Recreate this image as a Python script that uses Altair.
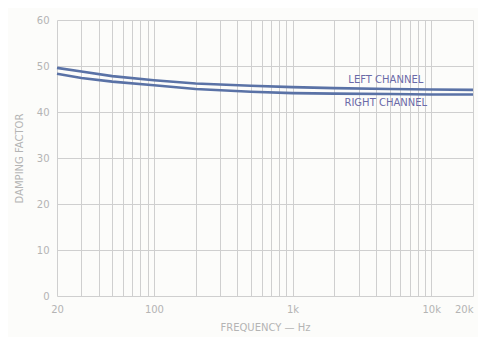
import altair as alt
import pandas as pd

freq = [20, 30, 50, 100, 200, 500, 1000, 2000, 5000, 10000, 20000]
left = [49.6, 48.8, 47.8, 46.9, 46.2, 45.7, 45.4, 45.2, 45.0, 44.9, 44.8]
right = [48.3, 47.4, 46.6, 45.8, 45.0, 44.4, 44.1, 44.0, 43.9, 43.8, 43.8]

grid_x = [20, 30, 40, 50, 60, 70, 80, 90, 100, 200, 300, 400, 500, 600, 700, 800, 900,
          1000, 2000, 3000, 4000, 5000, 6000, 7000, 8000, 9000, 10000, 20000]
label_map = {20: "20", 100: "100", 1000: "1k", 10000: "10k", 20000: "20k"}
y_ticks = [0, 10, 20, 30, 40, 50, 60]

label_text = ["LEFT CHANNEL", "RIGHT CHANNEL"]
label_x = [4700, 4700]
label_y = [47.0, 42.0]

rows = []
for f, l, r in zip(freq, left, right):
    rows.append({"f": f, "v": l, "ch": "LEFT CHANNEL"})
    rows.append({"f": f, "v": r, "ch": "RIGHT CHANNEL"})
df = pd.DataFrame(rows)
lab = pd.DataFrame({"t": label_text, "f": label_x, "v": label_y})

expr = " : ".join([f"datum.value == {k} ? '{v}'" for k, v in label_map.items()]) + " : ''"

xscale = alt.Scale(type="log", domain=[20, 20000], nice=False)
yscale = alt.Scale(domain=[0, 60], nice=False)

gray = "#b4b4b4"
font = "DejaVu Sans"

lines = alt.Chart(df).mark_line(strokeWidth=2.6, color="#5a72a6").encode(
    x=alt.X("f:Q", scale=xscale,
            axis=alt.Axis(values=grid_x, labelExpr=expr, title="FREQUENCY — Hz",
                          grid=True, gridColor="#cfcfcf", gridWidth=1, ticks=False,
                          domain=False, labelColor=gray, titleColor=gray,
                          labelFont=font, titleFont=font, labelFontSize=10,
                          titleFontSize=10, titleFontWeight="normal", labelPadding=8,
                          titlePadding=8, labelFlush=False,
                          labelAlign={"condition": {"test": "datum.value == 20000",
                                                    "value": "right"},
                                      "value": "center"})),
    y=alt.Y("v:Q", scale=yscale,
            axis=alt.Axis(values=y_ticks, title="DAMPING FACTOR", grid=True,
                          gridColor="#cfcfcf", gridWidth=1, ticks=False, domain=False,
                          labelColor=gray, titleColor=gray, labelFont=font,
                          titleFont=font, labelFontSize=10, titleFontSize=10,
                          titleFontWeight="normal", labelPadding=8, titlePadding=12)),
    detail="ch:N",
)

texts = alt.Chart(lab).mark_text(color="#6b6aa8", fontSize=10, font=font, align="center",
                                 baseline="middle").encode(
    x=alt.X("f:Q", scale=xscale), y=alt.Y("v:Q", scale=yscale), text="t:N")

chart = (lines + texts).properties(
    width=416, height=276,
    autosize=alt.AutoSizeParams(type="none"),
    padding={"left": 49, "top": 12, "right": 5, "bottom": 41},
    background="#fcfcfa",
).configure_view(stroke=None)

chart.save("out.html", embed_options={"renderer": "svg", "actions": False})
